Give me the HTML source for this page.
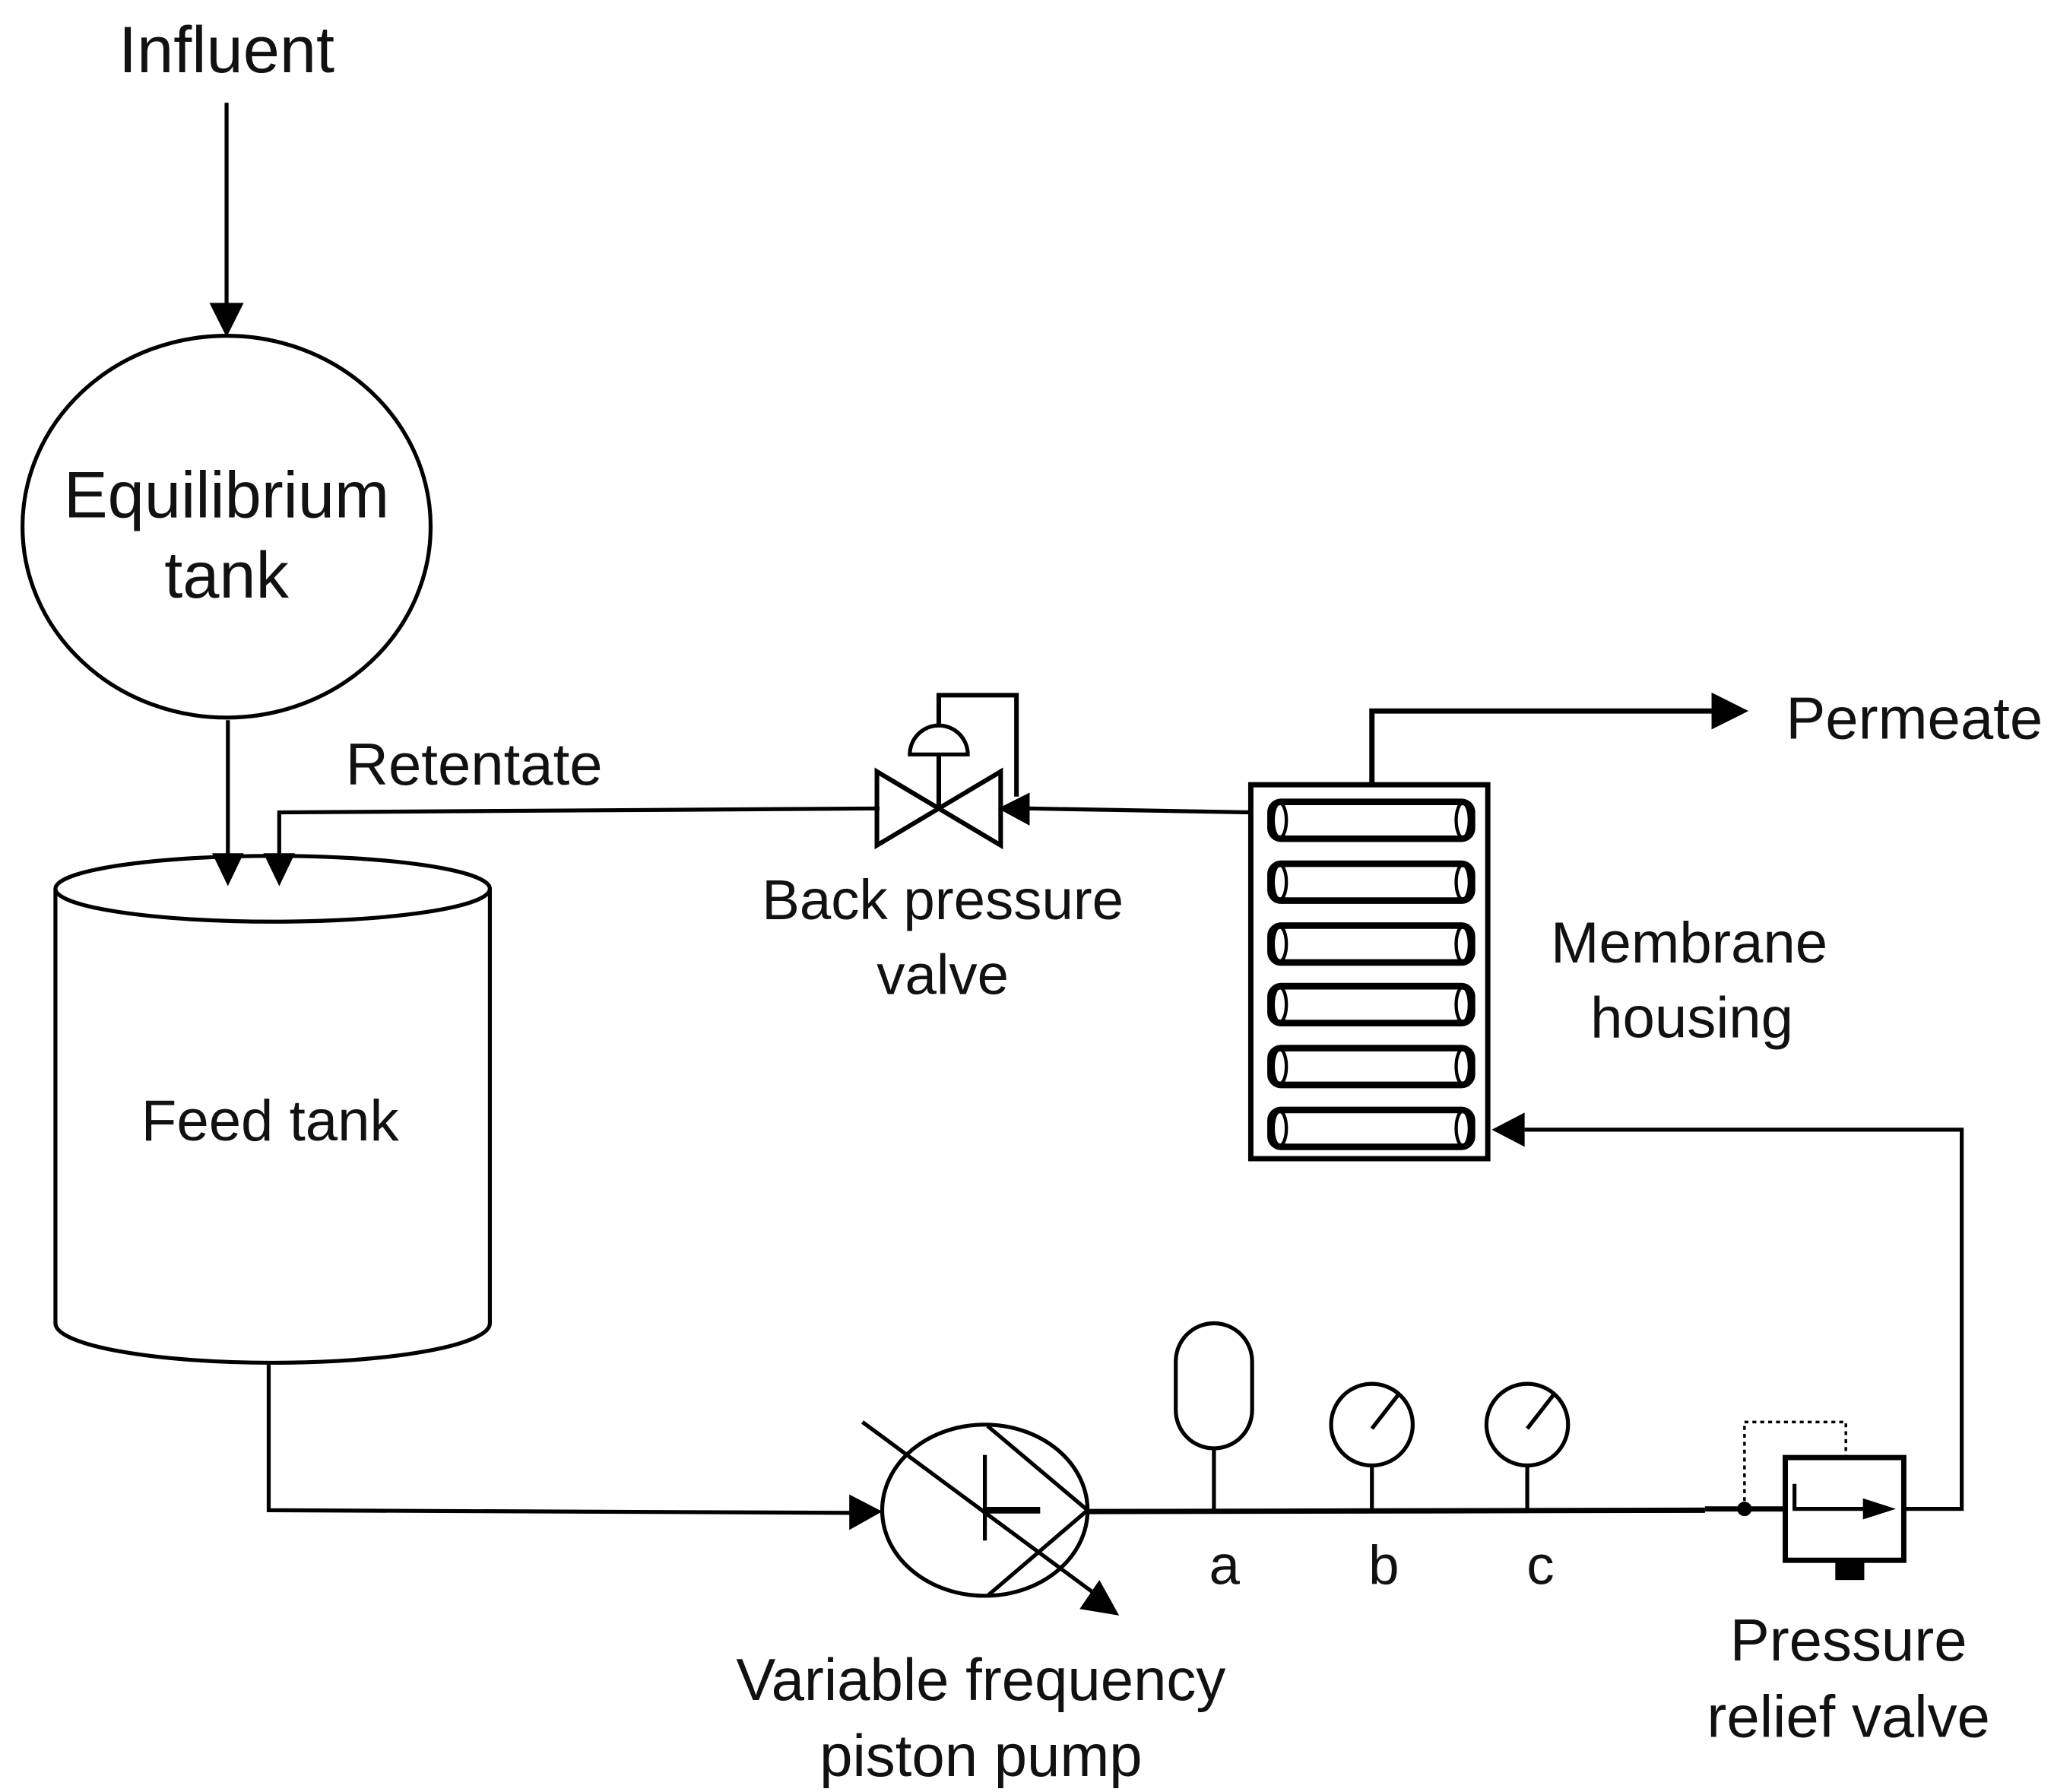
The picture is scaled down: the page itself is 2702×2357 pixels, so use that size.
<!DOCTYPE html>
<html><head><meta charset="utf-8"><style>
html,body{margin:0;padding:0;background:#fff;}
svg{display:block;}
text{font-family:"Liberation Sans",sans-serif;fill:#111;}
</style></head><body>
<svg width="2702" height="2357" viewBox="0 0 1560 1361" xmlns="http://www.w3.org/2000/svg">
<g stroke="#000" fill="none" stroke-width="3">
<line x1="172" y1="78" x2="172" y2="232"/>
<polygon points="159,230 185,230 172,256" fill="#000" stroke="none"/>
<ellipse cx="172" cy="400" rx="155" ry="145"/>
<line x1="173" y1="547" x2="173" y2="650"/>
<polygon points="161,648 185,648 173,673" fill="#000" stroke="none"/>
<polyline points="668,614 212,617 212,650"/>
<polygon points="200,648 224,648 212,673" fill="#000" stroke="none"/>
<ellipse cx="207" cy="675" rx="165" ry="25"/>
<path d="M42,675 V1005 A165,30 0 0 0 372,1005 V675"/>
<polyline points="204,1036 204,1147 648,1149"/>
<polygon points="645,1135 645,1162 670,1148" fill="#000" stroke="none"/>
<ellipse cx="748" cy="1147" rx="78" ry="65"/>
<line x1="748" y1="1105" x2="748" y2="1170"/>
<line x1="748" y1="1147" x2="790" y2="1147" stroke-width="5"/>
<polyline points="750,1083 826,1147 750,1212"/>
<line x1="655" y1="1080" x2="835" y2="1213"/>
<polygon points="850,1227 820,1222 835,1200" fill="#000" stroke="none"/>
<line x1="826" y1="1148" x2="1295" y2="1147" stroke-width="4"/>
<rect x="893" y="1005" width="58" height="95" rx="29"/>
<line x1="922" y1="1100" x2="922" y2="1147"/>
<circle cx="1042" cy="1082" r="31"/>
<line x1="1042" y1="1113" x2="1042" y2="1147"/>
<line x1="1042" y1="1085" x2="1063" y2="1058"/>
<circle cx="1160" cy="1082" r="31"/>
<line x1="1160" y1="1113" x2="1160" y2="1147"/>
<line x1="1160" y1="1085" x2="1181" y2="1058"/>
<line x1="1295" y1="1146" x2="1355" y2="1146" stroke-width="4"/>
<circle cx="1325" cy="1146" r="4" fill="#000"/>
<polyline points="1325,1146 1325,1080 1402,1080 1402,1107" stroke-width="2" stroke-dasharray="3,3"/>
<rect x="1356" y="1107" width="90" height="78" stroke-width="4"/>
<polyline points="1363,1127 1363,1146 1420,1146"/>
<polygon points="1415,1138 1415,1154 1440,1146" fill="#000" stroke="none"/>
<rect x="1394" y="1185" width="22" height="15" fill="#000" stroke="none"/>
<polyline points="1446,1146 1490,1146 1490,858 1158,858"/>
<polygon points="1158,845 1158,871 1133,858" fill="#000" stroke="none"/>
<rect x="950" y="596" width="180" height="284" stroke-width="4"/>
<g stroke-width="5">
<rect x="965" y="609" width="153" height="28" rx="8"/>
<rect x="965" y="656" width="153" height="28" rx="8"/>
<rect x="965" y="703" width="153" height="28" rx="8"/>
<rect x="965" y="749" width="153" height="28" rx="8"/>
<rect x="965" y="796" width="153" height="28" rx="8"/>
<rect x="965" y="843" width="153" height="28" rx="8"/>
</g>
<g stroke-width="2.5">
<ellipse cx="972" cy="623" rx="5" ry="13"/><ellipse cx="1111" cy="623" rx="5" ry="13"/>
<ellipse cx="972" cy="670" rx="5" ry="13"/><ellipse cx="1111" cy="670" rx="5" ry="13"/>
<ellipse cx="972" cy="717" rx="5" ry="13"/><ellipse cx="1111" cy="717" rx="5" ry="13"/>
<ellipse cx="972" cy="763" rx="5" ry="13"/><ellipse cx="1111" cy="763" rx="5" ry="13"/>
<ellipse cx="972" cy="810" rx="5" ry="13"/><ellipse cx="1111" cy="810" rx="5" ry="13"/>
<ellipse cx="972" cy="857" rx="5" ry="13"/><ellipse cx="1111" cy="857" rx="5" ry="13"/>
</g>
<polyline points="1042,596 1042,540 1302,540" stroke-width="4"/>
<polygon points="1300,526 1300,554 1328,540" fill="#000" stroke="none"/>
<line x1="950" y1="617" x2="780" y2="614"/>
<polygon points="782,602 782,627 758,614" fill="#000" stroke="none"/>
<polygon points="666,586 760,642 760,586 666,642" stroke-width="3.5"/>
<line x1="713" y1="614" x2="713" y2="573" stroke-width="3.5"/>
<path d="M691,573 A22,22 0 0 1 735,573 Z" stroke-width="3"/>
<polyline points="713,551 713,528 772,528 772,605" stroke-width="3.5"/>
</g>
<text x="172" y="55" text-anchor="middle" font-size="50">Influent</text>
<text x="172" y="393" text-anchor="middle" font-size="50">Equilibrium</text>
<text x="172" y="454" text-anchor="middle" font-size="50">tank</text>
<text x="360" y="596" text-anchor="middle" font-size="45">Retentate</text>
<text x="205" y="866" text-anchor="middle" font-size="44">Feed tank</text>
<text x="716" y="698" text-anchor="middle" font-size="43">Back pressure</text>
<text x="716" y="755" text-anchor="middle" font-size="43">valve</text>
<text x="1283" y="731" text-anchor="middle" font-size="44">Membrane</text>
<text x="1285" y="788" text-anchor="middle" font-size="44">housing</text>
<text x="1454" y="561" text-anchor="middle" font-size="45">Permeate</text>
<text x="745" y="1291" text-anchor="middle" font-size="45">Variable frequency</text>
<text x="745" y="1349" text-anchor="middle" font-size="45">piston pump</text>
<text x="1404" y="1261" text-anchor="middle" font-size="45">Pressure</text>
<text x="1404" y="1319" text-anchor="middle" font-size="45">relief valve</text>
<text x="930" y="1203" text-anchor="middle" font-size="42">a</text>
<text x="1051" y="1203" text-anchor="middle" font-size="42">b</text>
<text x="1170" y="1203" text-anchor="middle" font-size="42">c</text>
</svg>
</body></html>
